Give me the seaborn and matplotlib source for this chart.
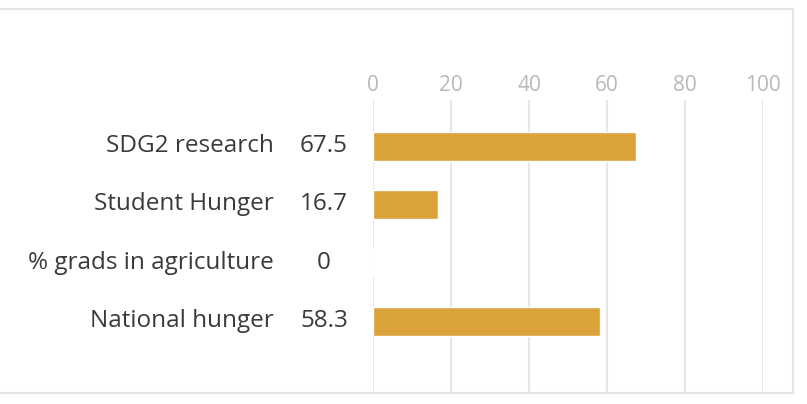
import matplotlib
matplotlib.use("Agg")
import matplotlib.pyplot as plt
import matplotlib.transforms as mtransforms
from matplotlib.lines import Line2D
import seaborn as sns
import pandas as pd

categories = ["SDG2 research", "Student Hunger", "% grads in agriculture", "National hunger"]
values = [67.5, 16.7, 0, 58.3]
value_labels = ["67.5", "16.7", "0", "58.3"]
x_ticks = [0, 20, 40, 60, 80, 100]

sns.set_theme(style="white")
plt.rcParams["font.family"] = ["Open Sans", "DejaVu Sans"]

df = pd.DataFrame({"category": categories, "value": values})

W, H = 807, 404
fig = plt.figure(figsize=(W / 100, H / 100), dpi=100)
fig.patch.set_facecolor("white")

left, right = 373 / W, 763 / W
top, bottom = 1 - 100 / H, 1 - 393 / H
ax = fig.add_axes([left, bottom, right - left, top - bottom])

sns.barplot(data=df, x="value", y="category", orient="h", color="#DBA23A",
            width=0.5, saturation=1, ax=ax, zorder=3)

ax.set_xlim(0, 100)
ax.set_ylim(4.23, -0.79)
ax.set_xticks(x_ticks)
ax.set_xticklabels([str(t) for t in x_ticks])
ax.xaxis.tick_top()
ax.tick_params(axis="x", length=0, pad=3, labelsize=15, labelcolor="#b8b8b8")
ax.set_yticks([])
ax.set_xlabel("")
ax.set_ylabel("")
for s in ax.spines.values():
    s.set_visible(False)
ax.grid(axis="x", color="#e6e6e6", linewidth=1.5, zorder=0)
ax.set_axisbelow(True)

trans = mtransforms.blended_transform_factory(ax.transAxes, ax.transData)
for i, (cat, lab) in enumerate(zip(categories, value_labels)):
    ax.text(-0.254, i, cat, transform=trans, ha="right", va="center",
            fontsize=17.5, color="#3a3a3a", clip_on=False)
    ax.text(-0.1256, i, lab, transform=trans, ha="center", va="center",
            fontsize=17.5, color="#3a3a3a", clip_on=False)

# card border
border = "#e4e4e4"
fig.add_artist(Line2D([0, 793 / W], [1 - 9 / H, 1 - 9 / H], color=border, lw=1.5, transform=fig.transFigure))
fig.add_artist(Line2D([793 / W, 793 / W], [1 - 9 / H, 1 - 393 / H], color=border, lw=1.5, transform=fig.transFigure))
fig.add_artist(Line2D([0, 793 / W], [1 - 393 / H, 1 - 393 / H], color=border, lw=1.5, transform=fig.transFigure))

fig.savefig("out.png", dpi=100, facecolor="white")
